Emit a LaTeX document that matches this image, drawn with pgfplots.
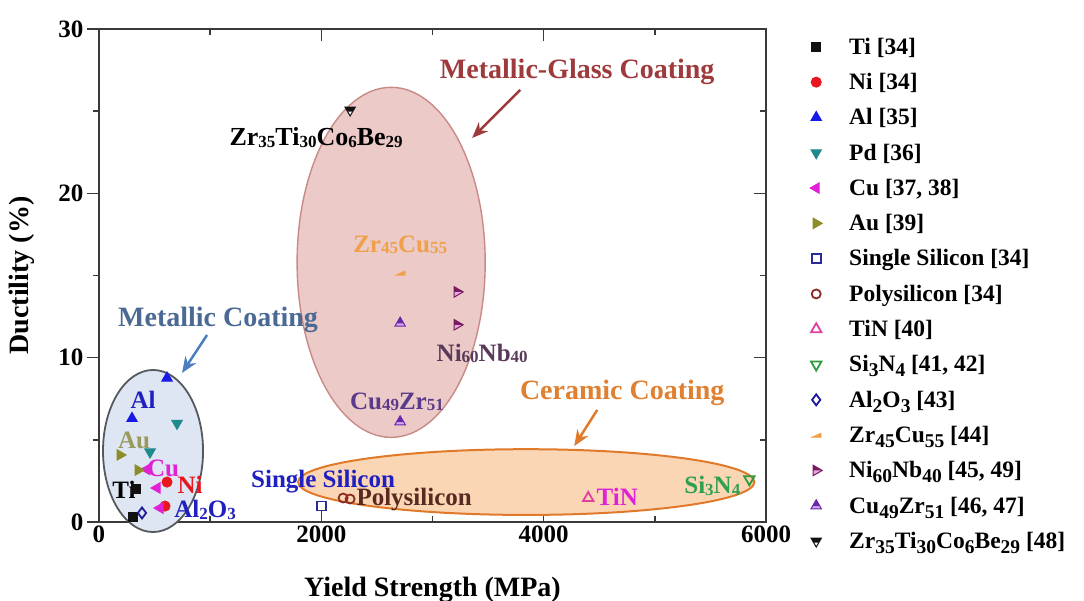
\documentclass[border=0pt]{standalone}
\usepackage{fontspec}
\setmainfont{Liberation Serif}
\usepackage{pgfplots}
\pgfplotsset{compat=1.18}
\usetikzlibrary{arrows.meta}

% marker colours
\definecolor{cTi}{HTML}{111111}
\definecolor{cNi}{HTML}{E8161E}
\definecolor{cAl}{HTML}{1A1AE6}
\definecolor{cPd}{HTML}{1E8A8C}
\definecolor{cCu}{HTML}{E021D5}
\definecolor{cAu}{HTML}{8C8C28}
\definecolor{cSS}{HTML}{2A2A9A}
\definecolor{cPS}{HTML}{8C2A22}
\definecolor{cTiN}{HTML}{E0409E}
\definecolor{cSiN}{HTML}{2E9A3E}
\definecolor{cAlO}{HTML}{1A1A9A}
\definecolor{cZrCu}{HTML}{F0A048}
\definecolor{cNbD}{HTML}{7A1A62}
\definecolor{cNbL}{HTML}{E6A8DA}
\definecolor{cCZD}{HTML}{6A28A8}
\definecolor{cCZL}{HTML}{D2A8F0}
\definecolor{cBe}{HTML}{111111}
% region and label colours
\definecolor{axgray}{HTML}{3A3A3A}
\definecolor{mcFill}{HTML}{DDE6F2}
\definecolor{mcLine}{HTML}{55595E}
\definecolor{mgFill}{HTML}{EBCAC7}
\definecolor{mgLine}{HTML}{C98A86}
\definecolor{ccFill}{HTML}{FBD6B5}
\definecolor{ccLine}{HTML}{E07A2A}
\definecolor{mgText}{HTML}{9E3A3C}
\definecolor{mcText}{HTML}{4A6A94}
\definecolor{mcArrow}{HTML}{4A7EC0}
\definecolor{ccText}{HTML}{E08030}
\definecolor{lBlue}{HTML}{2020C0}
\definecolor{lGreen}{HTML}{30A050}
\definecolor{lNb}{HTML}{5A3A5A}
\definecolor{lCZ}{HTML}{5A3A8A}
\definecolor{lAu}{HTML}{9A9A5A}
\definecolor{lPoly}{HTML}{5A2A20}

% half-filled and wedge markers
\pgfdeclareplotmark{zrcu}{%
  \pgfsetfillcolor{cZrCu}\pgfsetstrokecolor{cZrCu}
  \pgfpathmoveto{\pgfpoint{-\pgfplotmarksize}{-0.45\pgfplotmarksize}}
  \pgfpathlineto{\pgfpoint{\pgfplotmarksize}{-0.45\pgfplotmarksize}}
  \pgfpathlineto{\pgfpoint{\pgfplotmarksize}{0.45\pgfplotmarksize}}
  \pgfpathclose
  \pgfusepathqfillstroke}
\pgfdeclareplotmark{ninb}{%
  \pgfsetfillcolor{cNbL}
  \pgfpathmoveto{\pgfpoint{\pgfplotmarksize}{0pt}}
  \pgfpathlineto{\pgfpoint{-0.5\pgfplotmarksize}{0.866\pgfplotmarksize}}
  \pgfpathlineto{\pgfpoint{-0.5\pgfplotmarksize}{-0.866\pgfplotmarksize}}
  \pgfpathclose
  \pgfusepathqfill
  \pgfsetfillcolor{cNbD}
  \pgfpathmoveto{\pgfpoint{\pgfplotmarksize}{0pt}}
  \pgfpathlineto{\pgfpoint{-0.5\pgfplotmarksize}{0.866\pgfplotmarksize}}
  \pgfpathlineto{\pgfpoint{-0.5\pgfplotmarksize}{0pt}}
  \pgfpathclose
  \pgfusepathqfill
  \pgfsetstrokecolor{cNbD}
  \pgfpathmoveto{\pgfpoint{\pgfplotmarksize}{0pt}}
  \pgfpathlineto{\pgfpoint{-0.5\pgfplotmarksize}{0.866\pgfplotmarksize}}
  \pgfpathlineto{\pgfpoint{-0.5\pgfplotmarksize}{-0.866\pgfplotmarksize}}
  \pgfpathclose
  \pgfusepathqstroke}
\pgfdeclareplotmark{cuzr}{%
  \pgfsetfillcolor{cCZL}
  \pgfpathmoveto{\pgfpoint{0pt}{\pgfplotmarksize}}
  \pgfpathlineto{\pgfpoint{-0.866\pgfplotmarksize}{-0.5\pgfplotmarksize}}
  \pgfpathlineto{\pgfpoint{0.866\pgfplotmarksize}{-0.5\pgfplotmarksize}}
  \pgfpathclose
  \pgfusepathqfill
  \pgfsetfillcolor{cCZD}
  \pgfpathmoveto{\pgfpoint{0pt}{\pgfplotmarksize}}
  \pgfpathlineto{\pgfpoint{-0.6\pgfplotmarksize}{-0.05\pgfplotmarksize}}
  \pgfpathlineto{\pgfpoint{0.6\pgfplotmarksize}{-0.05\pgfplotmarksize}}
  \pgfpathclose
  \pgfusepathqfill
  \pgfsetstrokecolor{cCZD}
  \pgfpathmoveto{\pgfpoint{0pt}{\pgfplotmarksize}}
  \pgfpathlineto{\pgfpoint{-0.866\pgfplotmarksize}{-0.5\pgfplotmarksize}}
  \pgfpathlineto{\pgfpoint{0.866\pgfplotmarksize}{-0.5\pgfplotmarksize}}
  \pgfpathclose
  \pgfusepathqstroke}
\pgfdeclareplotmark{zrbe}{%
  \pgfsetfillcolor{white}
  \pgfpathmoveto{\pgfpoint{0pt}{-\pgfplotmarksize}}
  \pgfpathlineto{\pgfpoint{-0.866\pgfplotmarksize}{0.5\pgfplotmarksize}}
  \pgfpathlineto{\pgfpoint{0.866\pgfplotmarksize}{0.5\pgfplotmarksize}}
  \pgfpathclose
  \pgfusepathqfill
  \pgfsetfillcolor{cBe}
  \pgfpathmoveto{\pgfpoint{-0.866\pgfplotmarksize}{0.5\pgfplotmarksize}}
  \pgfpathlineto{\pgfpoint{0.866\pgfplotmarksize}{0.5\pgfplotmarksize}}
  \pgfpathlineto{\pgfpoint{0.433\pgfplotmarksize}{-0.25\pgfplotmarksize}}
  \pgfpathlineto{\pgfpoint{-0.433\pgfplotmarksize}{-0.25\pgfplotmarksize}}
  \pgfpathclose
  \pgfusepathqfill
  \pgfsetstrokecolor{cBe}
  \pgfpathmoveto{\pgfpoint{0pt}{-\pgfplotmarksize}}
  \pgfpathlineto{\pgfpoint{-0.866\pgfplotmarksize}{0.5\pgfplotmarksize}}
  \pgfpathlineto{\pgfpoint{0.866\pgfplotmarksize}{0.5\pgfplotmarksize}}
  \pgfpathclose
  \pgfusepathqstroke}

\newcommand\lab{\fontsize{25}{25}\selectfont\bfseries}
\newcommand\ann{\fontsize{28}{28}\selectfont\bfseries}
% inline small digits for the in-plot labels
\newcommand\sm[1]{\raisebox{-1.5pt}{\fontsize{17}{17}\selectfont #1}}
% subscripts in the legend
\newcommand\ls[1]{\raisebox{-5pt}{\fontsize{19.5}{19.5}\selectfont #1}}

\pgfplotsset{
  filled/.style={only marks, mark size=5pt, line width=1pt},
  hollow/.style={only marks, mark size=4.5pt, line width=1.8pt, fill=white},
}

\begin{document}
\begin{tikzpicture}
\useasboundingbox (-99pt,-79pt) rectangle (985pt,522pt);
\begin{axis}[
  width=667pt, height=493pt, scale only axis, clip=false,
  xmin=0, xmax=6000, ymin=0, ymax=30,
  xtick={0,2000,4000,6000}, minor xtick={1000,3000,5000},
  ytick={0,10,20,30}, minor ytick={5,15,25},
  xtick align=inside, ytick align=outside, ytick pos=left,
  major tick length=12pt, minor tick length=6pt,
  axis line style={axgray, line width=1.6pt},
  every tick/.style={axgray, line width=1.6pt},
  /pgf/number format/assume math mode=true,
  /pgf/number format/1000 sep={},
  ticklabel style={font=\fontsize{25}{25}\selectfont\bfseries},
  xlabel={Yield Strength (MPa)}, ylabel={Ductility (\%)},
  label style={font=\fontsize{28}{28}\selectfont\bfseries},
  xlabel style={at={(axis description cs:0.5,-0.138)}, anchor=center},
  ylabel style={at={(axis description cs:-0.1155,0.5)}, anchor=center, rotate=0},
  legend style={at={(rel axis cs:1.066,0.986)}, anchor=north west, draw=none, fill=none,
    font=\fontsize{23.5}{23.5}\selectfont\bfseries, row sep=13.8pt, inner sep=0pt,
    /tikz/every odd column/.append style={column sep=25pt},
    cells={anchor=west, text height=16pt, text depth=6pt}},
]
% coating regions
\filldraw[fill=mcFill, draw=mcLine, line width=1.8pt] (axis cs:486,4.32) ellipse [x radius=450, y radius=4.93];
\filldraw[fill=mgFill, draw=mgLine, line width=1.4pt] (axis cs:2628,15.8) ellipse [x radius=846, y radius=10.65];
\filldraw[fill=ccFill, draw=ccLine, line width=2pt] (axis cs:3843,2.43) ellipse [x radius=2052, y radius=2.0];

% region titles and arrows
\node[text=mgText, font=\ann] at (axis cs:4302,27.38) {Metallic-Glass Coating};
\draw[mgText, line width=2.5pt, -{Stealth[length=16pt,width=13pt]}] (axis cs:3789,26.29) -- (axis cs:3357,23.37);
\node[text=mcText, font=\ann] at (axis cs:1071,12.29) {Metallic Coating};
\draw[mcArrow, line width=2.5pt, -{Stealth[length=16pt,width=13pt]}] (axis cs:972,11.38) -- (axis cs:747,9.07);
\node[text=ccText, font=\ann] at (axis cs:4707,7.85) {Ceramic Coating};
\draw[ccLine, line width=2.5pt, -{Stealth[length=16pt,width=13pt]}] (axis cs:4482,6.82) -- (axis cs:4275,4.62);

% material labels
\node[text=black, font=\fontsize{26}{26}\selectfont\bfseries] at (axis cs:1953,23.4) {Zr\sm{35}Ti\sm{30}Co\sm{6}Be\sm{29}};
\node[text=cZrCu, font=\lab] at (axis cs:2709,16.86) {Zr\sm{45}Cu\sm{55}};
\node[text=lNb, font=\lab] at (axis cs:3447,10.25) {Ni\sm{60}Nb\sm{40}};
\node[text=lCZ, font=\lab] at (axis cs:2680,7.3) {Cu\sm{49}Zr\sm{51}};
\node[text=lBlue, font=\lab] at (axis cs:396,7.42) {Al};
\node[text=lAu, font=\lab] at (axis cs:315,4.99) {Au};
\node[text=cCu, font=\lab] at (axis cs:576,3.29) {Cu};
\node[text=cNi, font=\lab] at (axis cs:819,2.25) {Ni};
\node[text=black, font=\lab] at (axis cs:225,1.95) {Ti};
\node[text=lBlue, font=\lab] at (axis cs:954,0.73) {Al\sm{2}O\sm{3}};
\node[text=lBlue, font=\lab] at (axis cs:2016,2.43) {Single Silicon};
\node[text=lPoly, font=\lab] at (axis cs:2835,1.34) {Polysilicon};
\node[text=cCu, font=\lab] at (axis cs:4662,1.52) {TiN};
\node[text=lGreen, font=\lab] at (axis cs:5517,2.19) {Si\sm{3}N\sm{4}};

% measured coatings
\addplot[filled, mark=square*, color=cTi, mark size=4.5pt] coordinates {(330,2.0) (310,0.3)};
\addlegendentry{Ti [34]}
\addplot[filled, mark=*, color=cNi] coordinates {(612,2.43) (594,0.97)};
\addlegendentry{Ni [34]}
\addplot[filled, mark=triangle*, color=cAl, mark size=6pt] coordinates {(297,6.3) (612,8.76)};
\addlegendentry{Al [35]}
\addplot[filled, mark=triangle*, color=cPd, mark size=6pt, mark options={rotate=180}] coordinates {(702,6.0) (459,4.26)};
\addlegendentry{Pd [36]}
\addplot[filled, mark=triangle*, color=cCu, mark size=6pt, mark options={rotate=90}] coordinates {(522,2.07) (549,0.85) (430,3.2)};
\addlegendentry{Cu [37, 38]}
\addplot[filled, mark=triangle*, color=cAu, mark size=6pt, mark options={rotate=-90}] coordinates {(189,4.08) (351,3.16)};
\addlegendentry{Au [39]}
\addplot[hollow, mark=square, color=cSS] coordinates {(2000,0.97)};
\addlegendentry{Single Silicon [34]}
\addplot[hollow, mark=o, color=cPS] coordinates {(2196,1.46) (2259,1.4)};
\addlegendentry{Polysilicon [34]}
\addplot[hollow, mark=triangle, color=cTiN, mark size=6pt] coordinates {(4401,1.46)};
\addlegendentry{TiN [40]}
\addplot[hollow, mark=triangle, color=cSiN, mark size=6pt, mark options={rotate=180}] coordinates {(5850,2.6)};
\addlegendentry{Si\ls{3}N\ls{4} [41, 42]}
\addplot[hollow, mark=diamond, color=cAlO, mark size=5.5pt] coordinates {(387,0.55)};
\addlegendentry{Al\ls{2}O\ls{3} [43]}
\addplot[only marks, mark=zrcu, mark size=5pt] coordinates {(2709,15.15)};
\addlegendentry{Zr\ls{45}Cu\ls{55} [44]}
\addplot[only marks, mark=ninb, mark size=6pt, line width=1pt] coordinates {(3222,14.0) (3222,12.0)};
\addlegendentry{Ni\ls{60}Nb\ls{40} [45, 49]}
\addplot[only marks, mark=cuzr, mark size=6pt, line width=1pt] coordinates {(2709,12.1) (2709,6.1)};
\addlegendentry{Cu\ls{49}Zr\ls{51} [46, 47]}
\addplot[only marks, mark=zrbe, mark size=6pt, line width=1pt] coordinates {(2259,25.07)};
\addlegendentry{Zr\ls{35}Ti\ls{30}Co\ls{6}Be\ls{29} [48]}
\end{axis}
% inward ticks on the right-hand spine
\begin{axis}[
  width=667pt, height=493pt, scale only axis,
  xmin=0, xmax=6000, ymin=0, ymax=30,
  hide x axis, axis y line*=right,
  ytick={0,10,20,30}, minor ytick={5,15,25}, yticklabels={},
  ytick align=inside, major tick length=12pt, minor tick length=6pt,
  axis line style={axgray, line width=1.6pt},
  every tick/.style={axgray, line width=1.6pt},
]
\end{axis}
\end{tikzpicture}
\end{document}
